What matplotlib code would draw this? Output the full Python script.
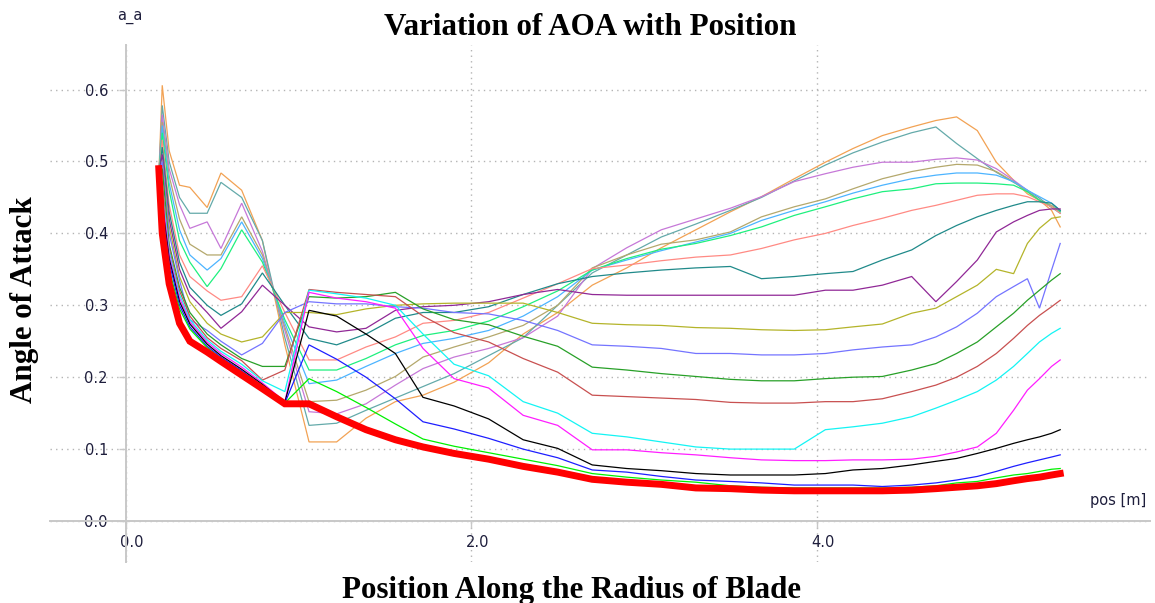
import matplotlib
matplotlib.use("Agg")
import matplotlib.pyplot as plt
from matplotlib.transforms import ScaledTranslation

# ---------------- data ----------------
POS = [0.19, 0.21, 0.25, 0.31, 0.37, 0.47, 0.55, 0.67, 0.79, 0.92,
       1.06, 1.22, 1.39, 1.56, 1.72, 1.90, 2.10, 2.30, 2.50, 2.70, 2.90, 3.10, 3.30, 3.50,
       3.68, 3.87, 4.05, 4.21, 4.38, 4.55, 4.69, 4.81, 4.93, 5.04, 5.14, 5.22, 5.29, 5.36, 5.41]

aoa_orange = [0.48, 0.606, 0.515, 0.467, 0.464, 0.436, 0.484, 0.46, 0.39, 0.245,
              0.11, 0.11, 0.143, 0.166, 0.175, 0.193, 0.22, 0.26, 0.29, 0.328, 0.352, 0.38, 0.405, 0.43,
              0.451, 0.476, 0.499, 0.518, 0.536, 0.548, 0.557, 0.562, 0.543, 0.499, 0.474, 0.455, 0.446, 0.432, 0.409]
aoa_tealgray = [0.48, 0.578, 0.50, 0.45, 0.428, 0.428, 0.471, 0.45, 0.39, 0.255,
                0.133, 0.136, 0.154, 0.171, 0.187, 0.205, 0.23, 0.255, 0.30, 0.345, 0.37, 0.395, 0.413, 0.432,
                0.45, 0.473, 0.495, 0.512, 0.527, 0.54, 0.548, 0.525, 0.504, 0.485, 0.471, 0.46, 0.449, 0.436, 0.428]
aoa_orchid = [0.48, 0.565, 0.49, 0.44, 0.407, 0.416, 0.379, 0.442, 0.375, 0.265,
              0.152, 0.149, 0.163, 0.189, 0.212, 0.228, 0.24, 0.255, 0.285, 0.351, 0.38, 0.405, 0.42, 0.435,
              0.451, 0.472, 0.483, 0.492, 0.499, 0.499, 0.503, 0.505, 0.502, 0.49, 0.474, 0.46, 0.446, 0.437, 0.43]
aoa_khaki = [0.48, 0.555, 0.48, 0.42, 0.385, 0.37, 0.37, 0.423, 0.37, 0.27,
             0.166, 0.168, 0.182, 0.201, 0.228, 0.242, 0.256, 0.272, 0.30, 0.352, 0.37, 0.385, 0.391, 0.402,
             0.423, 0.437, 0.448, 0.462, 0.476, 0.486, 0.492, 0.496, 0.495, 0.486, 0.472, 0.458, 0.446, 0.439, 0.432]
aoa_lightblue = [0.48, 0.55, 0.47, 0.405, 0.37, 0.349, 0.365, 0.416, 0.365, 0.275,
                 0.191, 0.196, 0.215, 0.233, 0.247, 0.254, 0.265, 0.285, 0.312, 0.349, 0.363, 0.376, 0.388, 0.40,
                 0.418, 0.432, 0.444, 0.456, 0.467, 0.476, 0.481, 0.484, 0.484, 0.481, 0.472, 0.46, 0.451, 0.442, 0.432]
aoa_springgreen = [0.48, 0.54, 0.46, 0.39, 0.36, 0.326, 0.351, 0.405, 0.36, 0.28,
                   0.21, 0.21, 0.226, 0.245, 0.258, 0.265, 0.278, 0.298, 0.32, 0.349, 0.365, 0.378, 0.386, 0.397,
                   0.409, 0.425, 0.437, 0.448, 0.458, 0.462, 0.469, 0.47, 0.47, 0.469, 0.467, 0.458, 0.446, 0.437, 0.43]
aoa_salmon = [0.48, 0.53, 0.44, 0.37, 0.34, 0.32, 0.307, 0.312, 0.355, 0.29,
              0.224, 0.224, 0.242, 0.256, 0.275, 0.279, 0.29, 0.31, 0.33, 0.351, 0.356, 0.362, 0.367, 0.37,
              0.379, 0.391, 0.40, 0.411, 0.421, 0.432, 0.439, 0.446, 0.453, 0.455, 0.455, 0.451, 0.444, 0.437, 0.428]
aoa_teal = [0.48, 0.52, 0.43, 0.36, 0.325, 0.30, 0.286, 0.302, 0.345, 0.30,
            0.254, 0.245, 0.26, 0.282, 0.29, 0.29, 0.298, 0.315, 0.33, 0.34, 0.345, 0.349, 0.352, 0.354,
            0.337, 0.34, 0.344, 0.347, 0.363, 0.377, 0.397, 0.411, 0.423, 0.432, 0.439, 0.444, 0.444, 0.442, 0.432]
aoa_purple = [0.48, 0.51, 0.42, 0.35, 0.315, 0.29, 0.268, 0.291, 0.328, 0.30,
              0.27, 0.263, 0.268, 0.293, 0.298, 0.30, 0.305, 0.315, 0.322, 0.315, 0.314, 0.314, 0.314, 0.314,
              0.314, 0.314, 0.321, 0.321, 0.328, 0.34, 0.305, 0.333, 0.363, 0.402, 0.416, 0.425, 0.432, 0.434, 0.434]
aoa_olive = [0.48, 0.50, 0.41, 0.34, 0.305, 0.275, 0.26, 0.249, 0.256, 0.29,
             0.29, 0.287, 0.295, 0.30, 0.302, 0.303, 0.303, 0.303, 0.29, 0.275, 0.273, 0.272, 0.269, 0.268,
             0.266, 0.265, 0.266, 0.27, 0.274, 0.289, 0.296, 0.312, 0.328, 0.35, 0.344, 0.386, 0.407, 0.421, 0.423]
aoa_slateblue = [0.48, 0.50, 0.40, 0.335, 0.28, 0.265, 0.25, 0.231, 0.247, 0.29,
                 0.305, 0.302, 0.302, 0.298, 0.296, 0.29, 0.288, 0.279, 0.265, 0.245, 0.243, 0.24, 0.233, 0.233,
                 0.231, 0.231, 0.233, 0.238, 0.242, 0.245, 0.256, 0.27, 0.289, 0.312, 0.326, 0.337, 0.296, 0.349, 0.386]
aoa_green = [0.48, 0.49, 0.385, 0.325, 0.29, 0.26, 0.245, 0.226, 0.215, 0.215,
             0.312, 0.31, 0.312, 0.318, 0.295, 0.28, 0.273, 0.257, 0.243, 0.214, 0.21, 0.205, 0.201, 0.197,
             0.195, 0.195, 0.198, 0.20, 0.201, 0.21, 0.219, 0.233, 0.249, 0.27, 0.289, 0.307, 0.321, 0.335, 0.344]
aoa_indianred = [0.48, 0.47, 0.38, 0.32, 0.285, 0.255, 0.24, 0.223, 0.196, 0.21,
                 0.322, 0.318, 0.315, 0.312, 0.285, 0.262, 0.249, 0.226, 0.207, 0.175, 0.173, 0.171, 0.169, 0.165,
                 0.164, 0.164, 0.166, 0.166, 0.17, 0.18, 0.189, 0.20, 0.215, 0.233, 0.254, 0.272, 0.286, 0.298, 0.307]
aoa_cyan = [0.48, 0.46, 0.375, 0.315, 0.28, 0.252, 0.236, 0.218, 0.195, 0.18,
            0.321, 0.316, 0.31, 0.30, 0.26, 0.218, 0.202, 0.166, 0.15, 0.122, 0.117, 0.11, 0.103, 0.10,
            0.10, 0.10, 0.127, 0.131, 0.136, 0.145, 0.157, 0.168, 0.18, 0.196, 0.215, 0.233, 0.249, 0.261, 0.268]
aoa_magenta = [0.48, 0.45, 0.37, 0.31, 0.277, 0.249, 0.233, 0.214, 0.192, 0.166,
               0.318, 0.31, 0.305, 0.296, 0.24, 0.198, 0.185, 0.147, 0.133, 0.099, 0.099, 0.095, 0.092, 0.088,
               0.085, 0.084, 0.084, 0.085, 0.085, 0.086, 0.09, 0.096, 0.103, 0.122, 0.154, 0.182, 0.198, 0.215, 0.224]
aoa_black = [0.48, 0.44, 0.365, 0.305, 0.274, 0.246, 0.23, 0.211, 0.19, 0.165,
             0.293, 0.285, 0.26, 0.233, 0.172, 0.16, 0.142, 0.113, 0.101, 0.078, 0.073, 0.07, 0.066, 0.064,
             0.064, 0.064, 0.066, 0.071, 0.073, 0.078, 0.083, 0.087, 0.094, 0.101, 0.108, 0.113, 0.117, 0.122, 0.127]
aoa_blue = [0.48, 0.43, 0.36, 0.30, 0.27, 0.243, 0.228, 0.209, 0.188, 0.164,
            0.245, 0.225, 0.20, 0.17, 0.138, 0.128, 0.115, 0.10, 0.088, 0.071, 0.068, 0.062, 0.057, 0.055,
            0.053, 0.05, 0.05, 0.05, 0.048, 0.05, 0.053, 0.057, 0.062, 0.069, 0.076, 0.081, 0.085, 0.089, 0.092]
aoa_lime = [0.48, 0.42, 0.35, 0.295, 0.267, 0.241, 0.226, 0.207, 0.187, 0.164,
            0.198, 0.18, 0.158, 0.135, 0.114, 0.104, 0.095, 0.086, 0.077, 0.066, 0.061, 0.057, 0.054, 0.049,
            0.047, 0.046, 0.046, 0.046, 0.046, 0.047, 0.049, 0.053, 0.055, 0.06, 0.064, 0.066, 0.069, 0.072, 0.073]
aoa_red = [0.49, 0.40, 0.33, 0.275, 0.25, 0.235, 0.222, 0.203, 0.184, 0.163,
           0.163, 0.145, 0.127, 0.113, 0.103, 0.094, 0.086, 0.076, 0.068, 0.058, 0.054, 0.051, 0.046, 0.045,
           0.043, 0.042, 0.042, 0.042, 0.042, 0.043, 0.045, 0.047, 0.049, 0.052, 0.056, 0.059, 0.061, 0.064, 0.066]

X_TICKS = [0.0, 2.0, 4.0]
X_TICK_LABELS = ["0.0", "2.0", "4.0"]
Y_TICKS = [0.0, 0.1, 0.2, 0.3, 0.4, 0.5, 0.6]
Y_TICK_LABELS = ["0.0", "0.1", "0.2", "0.3", "0.4", "0.5", "0.6"]

TITLE = "Variation of AOA with Position"
XLABEL = "Position Along the Radius of Blade"
YLABEL = "Angle of Attack"

# ---------------- styles ----------------
series = [
    (aoa_orange, "#f2a254"),
    (aoa_tealgray, "#64aaaa"),
    (aoa_orchid, "#c678d8"),
    (aoa_khaki, "#b4a86c"),
    (aoa_lightblue, "#4cb4ff"),
    (aoa_springgreen, "#1ef07e"),
    (aoa_salmon, "#ff8a84"),
    (aoa_teal, "#208a8a"),
    (aoa_purple, "#902896"),
    (aoa_olive, "#b4b42a"),
    (aoa_slateblue, "#7474ff"),
    (aoa_green, "#28a028"),
    (aoa_indianred, "#c85050"),
    (aoa_cyan, "#14f4f4"),
    (aoa_magenta, "#ff1eff"),
    (aoa_black, "#000000"),
    (aoa_blue, "#1e1eff"),
    (aoa_lime, "#00f000"),
]

W, H = 1155, 603
fig = plt.figure(figsize=(W / 100, H / 100), dpi=100)
ax = fig.add_axes([50 / W, (H - 562) / H, 1100 / W, 517 / H])
ax.set_xlim(-0.44, 5.93)
ax.set_ylim(-0.057, 0.662)

for ys, c in series:
    ax.plot(POS, ys, color=c, lw=0.9, solid_joinstyle="miter", zorder=3)
ax.plot(POS, aoa_red, color="#ff0000", lw=5.0, solid_joinstyle="miter", zorder=4)

for s in ["top", "right"]:
    ax.spines[s].set_visible(False)
for s in ["left", "bottom"]:
    ax.spines[s].set_position(("data", 0))
    ax.spines[s].set_color("#c8c8c8")
    ax.spines[s].set_linewidth(1.4)
    ax.spines[s].set_zorder(2)

ax.set_xticks(X_TICKS)
ax.set_xticklabels(X_TICK_LABELS)
ax.set_yticks(Y_TICKS)
ax.set_yticklabels(Y_TICK_LABELS)
ax.tick_params(axis="both", colors="#c8c8c8", labelcolor="#1e1e3c", length=5, width=1, labelsize=10.5)
ax.tick_params(axis="y", pad=8)
ax.tick_params(axis="x", pad=5)
off = ScaledTranslation(6 / 100, 0, fig.dpi_scale_trans)
for lab in ax.get_xticklabels():
    lab.set_transform(lab.get_transform() + off)

ax.set_axisbelow(True)
ax.grid(True, linestyle=(0, (1, 3)), color="#b4b4b4", linewidth=1.0)
ax.set_facecolor("white")

fig.text(130 / W, 1 - 17 / H, "a_a", ha="center", va="center", fontsize=10.5, color="#1e1e3c")
fig.text(1118 / W, 1 - 500 / H, "pos [m]", ha="center", va="center", fontsize=10.5, color="#1e1e3c")

serif = dict(family="Liberation Serif", weight="bold", color="black")
fig.text(590 / W, 1 - 35 / H, TITLE, ha="center", va="baseline", fontsize=22.3, **serif)
fig.text(571 / W, (H - 598) / H, XLABEL, ha="center", va="baseline", fontsize=22.3, **serif)
fig.text(25 / W, 1 - 300 / H, YLABEL, ha="center", va="center", rotation=90, fontsize=22.3, **serif)

fig.savefig("out.png", dpi=100)
